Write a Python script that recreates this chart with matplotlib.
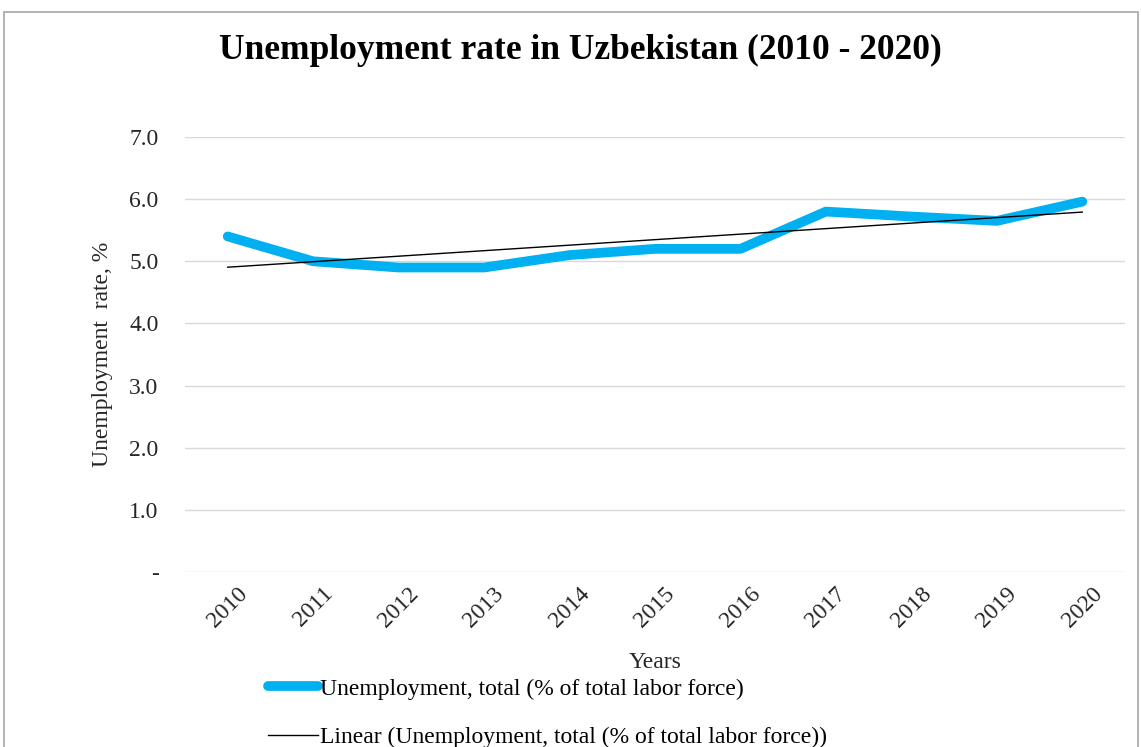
import numpy as np
import matplotlib
matplotlib.use("Agg")
import matplotlib.pyplot as plt
from matplotlib.patches import Rectangle

# Data
years = ["2010", "2011", "2012", "2013", "2014", "2015", "2016", "2017", "2018", "2019", "2020"]
unemployment = [5.4, 5.0, 4.9, 4.9, 5.1, 5.2, 5.2, 5.8, 5.72, 5.65, 5.96]
y_ticks = [0, 1, 2, 3, 4, 5, 6, 7]
y_tick_labels = ["-", "1.0", "2.0", "3.0", "4.0", "5.0", "6.0", "7.0"]

plt.rcParams['font.family'] = ['Liberation Serif', 'DejaVu Serif']

W, H = 1141, 747
fig = plt.figure(figsize=(W / 100, H / 100), dpi=100)
ax = fig.add_axes([185 / W, 1 - 572 / H, 940 / W, (572 - 137) / H])

x = np.arange(len(years))
# linear trend line, like Excel's "Linear" trendline
slope, intercept = np.polyfit(x, unemployment, 1)
trend = slope * x + intercept

ax.plot(x, unemployment, color='#00b0f0', linewidth=7, solid_capstyle='round',
        solid_joinstyle='round', label='Unemployment, total (% of total labor force)', zorder=3)
ax.plot(x, trend, color='black', linewidth=1.0,
        label='Linear (Unemployment, total (% of total labor force))', zorder=4)

ax.set_xlim(-0.5, len(years) - 0.5)
ax.set_ylim(0, 7)
ax.set_yticks(y_ticks)
ax.set_yticklabels(y_tick_labels, fontsize=17, color='#262626')
ax.set_xticks(x)
ax.set_xticklabels(years, rotation=45, ha='center', va='top', fontsize=17,
                   color='#262626')
ax.tick_params(axis='x', length=0, pad=8)
ax.tick_params(axis='y', length=0, pad=19)
ax.grid(axis='y', color='#d9d9d9', linewidth=1)
ax.set_axisbelow(True)
for s in ax.spines.values():
    s.set_visible(False)

ax.set_ylabel('Unemployment  rate, %', fontsize=17, color='#262626', labelpad=12)
ax.set_xlabel('Years', fontsize=17, color='#262626', labelpad=15)

fig.text(580 / W, 1 - 50 / H, 'Unemployment rate in Uzbekistan (2010 - 2020)',
         ha='center', va='center', fontsize=25.5, fontweight='bold')

leg = fig.legend(loc='upper left', bbox_to_anchor=(268 / W, 1 - 678 / H), frameon=False,
                 fontsize=17, handlelength=2.1, handletextpad=0.1, labelspacing=1.15,
                 borderaxespad=0, borderpad=0)

# outer chart border
fig.patches.append(Rectangle((4 / W, -0.05), (1134 / W), 1 - 12 / H + 0.05,
                             transform=fig.transFigure, fill=False,
                             edgecolor='#a6a6a6', linewidth=1.2))

fig.savefig('out.png', dpi=100)
